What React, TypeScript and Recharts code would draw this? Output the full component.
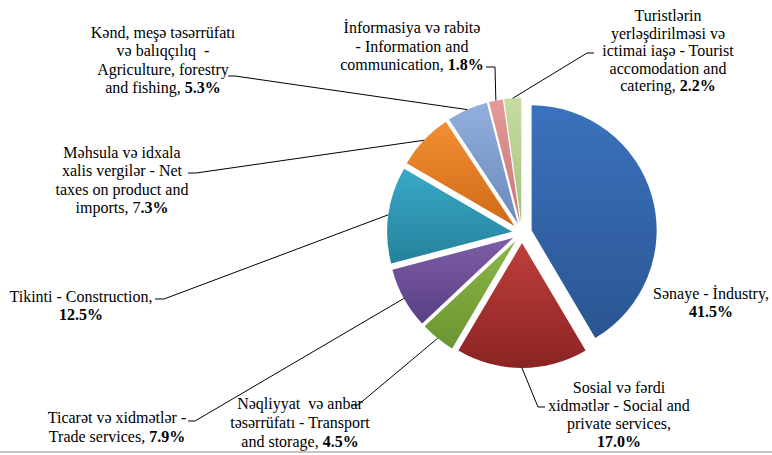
import React from 'react';
import { PieChart, Pie, Sector } from 'recharts';

// GDP structure by sector, %
const sectors = [
  'Sənaye - İndustry',
  'Sosial və fərdi xidmətlər - Social and private services',
  'Nəqliyyat və anbar təsərrüfatı - Transport and storage',
  'Ticarət və xidmətlər - Trade services',
  'Tikinti - Construction',
  'Məhsula və idxala xalis vergilər - Net taxes on product and imports',
  'Kənd, meşə təsərrüfatı və balıqçılıq - Agriculture, forestry and fishing',
  'İnformasiya və rabitə - Information and communication',
  'Turistlərin yerləşdirilməsi və ictimai iaşə - Tourist accomodation and catering',
];
const shares = [41.5, 17.0, 4.5, 7.9, 12.5, 7.3, 5.3, 1.8, 2.2];

// label text, the percent is appended (bold) to the last line
const labelLines = [
  ['Sənaye - İndustry,', ''],
  ['Sosial və fərdi', 'xidmətlər - Social and', 'private services,', ''],
  ['Nəqliyyat  və anbar', 'təsərrüfatı - Transport', 'and storage, '],
  ['Ticarət və xidmətlər -', 'Trade services, '],
  ['Tikinti - Construction,', ''],
  ['Məhsula və idxala', 'xalis vergilər - Net', 'taxes on product and', 'imports, '],
  ['Kənd, meşə təsərrüfatı', 'və balıqçılıq  -', 'Agriculture, forestry', 'and fishing, '],
  ['İnformasiya və rabitə', '- Information and', 'communication, '],
  ['Turistlərin', 'yerləşdirilməsi və', 'ictimai iaşə - Tourist', 'accomodation and', 'catering, '],
];

const topColors = ['#3b72bd', '#bf3f3b', '#8cb748', '#7d5ea8', '#39a9c7', '#f28e33', '#92afdc', '#e49b99', '#c7dba1'];
const bottomColors = ['#2a5592', '#8a2323', '#6a9430', '#5a3f84', '#25819b', '#cf6b17', '#6b89bb', '#c97472', '#a6c27b'];

const data = sectors.map((name, i) => ({ name, value: shares[i] }));

const RAD = Math.PI / 180;
const EXPLODE = 10;
const FONT = '"Liberation Serif", "Times New Roman", serif';

// where each label sits and where its leader line starts
const labelLayout: { x: number; y: number; lh: number; lead: number[][] | null }[] = [
  { x: 711, y: 299, lh: 18, lead: null },
  { x: 619, y: 393, lh: 18, lead: [[545, 407], [538, 407]] },
  { x: 300, y: 409, lh: 19, lead: [[351, 405], [358, 405]] },
  { x: 117, y: 423, lh: 19, lead: [[188, 421], [195, 421]] },
  { x: 81, y: 302, lh: 18, lead: [[155, 299], [164, 299]] },
  { x: 122, y: 158, lh: 18.3, lead: [[188, 173], [196, 173]] },
  { x: 163, y: 38, lh: 18.3, lead: [[228, 76], [235, 76]] },
  { x: 412, y: 33, lh: 18.5, lead: [[486, 67], [495, 67]] },
  { x: 668, y: 21, lh: 17.6, lead: [[594, 53], [587, 53]] },
];

const renderSlice = (props: any) => {
  const { cx, cy, midAngle, innerRadius, outerRadius, startAngle, endAngle, index } = props;
  const cos = Math.cos(-midAngle * RAD);
  const sin = Math.sin(-midAngle * RAD);
  const ex = cx + (outerRadius + EXPLODE) * cos;
  const ey = cy + (outerRadius + EXPLODE) * sin;
  const lay = labelLayout[index];
  const lines = labelLines[index];
  const pct = shares[index].toFixed(1) + '%';
  // net taxes label has the leading digit in regular weight
  const split = index === 5 ? 1 : 0;

  return (
    <g key={`slice-${index}`}>
      <Sector
        cx={cx + EXPLODE * cos}
        cy={cy + EXPLODE * sin}
        innerRadius={innerRadius}
        outerRadius={outerRadius}
        startAngle={startAngle}
        endAngle={endAngle}
        fill={`url(#grad${index})`}
        stroke="none"
      />
      {lay.lead && (
        <polyline
          points={[...lay.lead, [ex, ey]].map((p) => p.join(',')).join(' ')}
          fill="none"
          stroke="#000"
          strokeWidth={1}
        />
      )}
      <text textAnchor="middle" fontFamily={FONT} fontSize={16} fill="#000" style={{ whiteSpace: 'pre' }}>
        {lines.map((ln, j) => (
          <tspan key={j} x={lay.x} y={lay.y + j * lay.lh}>
            {ln}
            {j === lines.length - 1 && split > 0 ? pct.slice(0, split) : null}
            {j === lines.length - 1 ? <tspan fontWeight="bold">{pct.slice(split)}</tspan> : null}
          </tspan>
        ))}
      </text>
    </g>
  );
};

export default function App() {
  return (
    <div style={{ position: 'absolute', left: 0, top: 0, width: 772, height: 455, background: '#fff' }}>
      <PieChart width={772} height={455} margin={{ top: 0, right: 0, bottom: 0, left: 0 }}>
        <defs>
          {topColors.map((c, i) => (
            <linearGradient key={i} id={`grad${i}`} x1="0" y1="0" x2="0" y2="1">
              <stop offset="0%" stopColor={c} />
              <stop offset="100%" stopColor={bottomColors[i]} />
            </linearGradient>
          ))}
        </defs>
        <Pie
          data={data}
          dataKey="value"
          nameKey="name"
          cx={522}
          cy={233}
          outerRadius={125}
          startAngle={90}
          endAngle={-270}
          fill="none"
          stroke="none"
          labelLine={false}
          label={renderSlice}
          isAnimationActive={false}
        />
      </PieChart>
      <div style={{ position: 'absolute', left: 0, top: 451, width: 772, height: 2, background: '#c4c4c4' }} />
    </div>
  );
}
